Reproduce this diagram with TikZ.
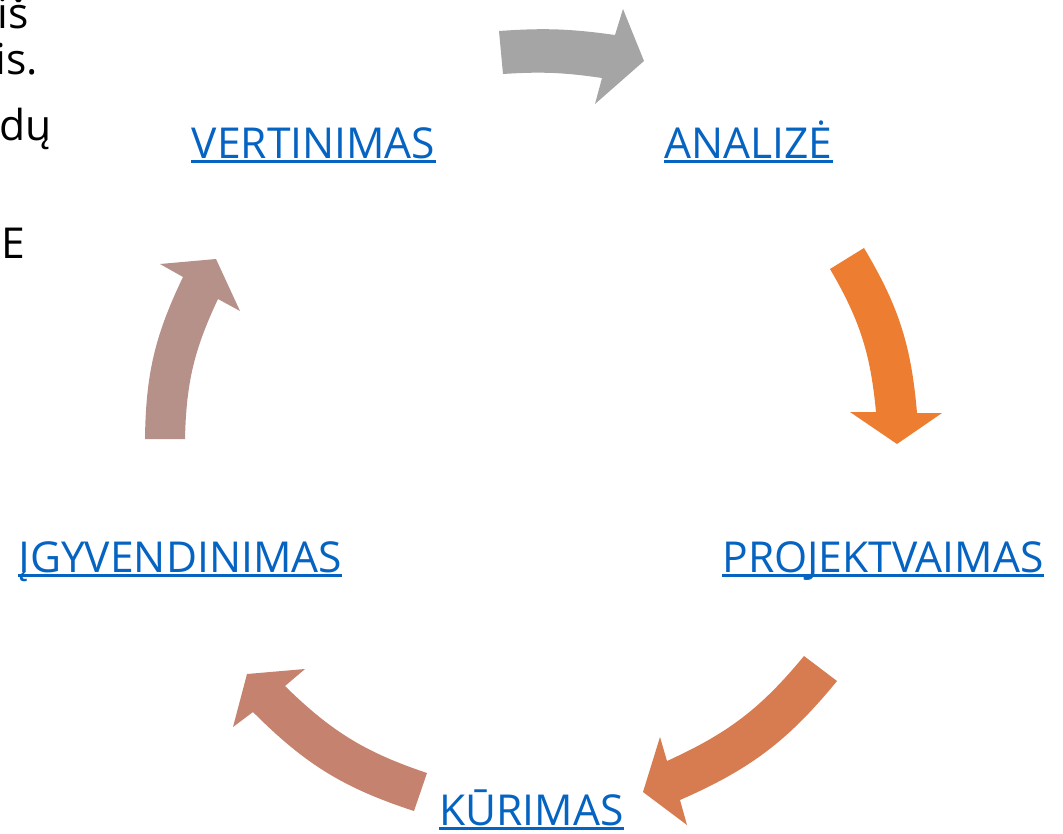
\documentclass[tikz,border=0pt]{standalone}
\usepackage{fontspec}
\setmainfont{Open Sans}
\definecolor{linkblue}{HTML}{0563C1}
\definecolor{arrA}{HTML}{A5A5A5}
\definecolor{arrB}{HTML}{ED7D31}
\definecolor{arrC}{HTML}{D77B51}
\definecolor{arrD}{HTML}{C4826F}
\definecolor{arrE}{HTML}{B5918A}
\begin{document}
\begin{tikzpicture}[x=1pt,y=-1pt,
  lbl/.style={text=linkblue, font=\fontsize{42.6}{51}\selectfont, inner sep=0pt, anchor=base},
  frag/.style={text=black, font=\fontsize{42.6}{51}\selectfont, inner sep=0pt, anchor=base east},
  uline/.style={fill=linkblue}]
\useasboundingbox (0,0) rectangle (1063,833);

% clipped text fragments
\node[frag] (f1) at (29,28) {iš};
\node[frag] (f2) at (38,74) {is.};
\node[frag] (f3) at (52,140) {dų};
\node[frag] (f4) at (25,258) {E};

% labels
\node[lbl] (ver) at (313.5,158) {VERTINIMAS};
\node[lbl] (ana) at (748.5,158) {ANALIZĖ};
\node[lbl] (pro) at (883,572) {PROJEKTVAIMAS};
\node[lbl] (igy) at (180,572) {ĮGYVENDINIMAS};
\node[lbl] (kur) at (531.5,825) {KŪRIMAS};
\foreach \n in {ver,ana,pro,igy,kur}{
  \fill[uline] ([yshift=-2pt]\n.base west) rectangle ([yshift=-4.5pt]\n.base east);
}

% curved block arrows
\fill[arrA] (499,31) to[bend left=6] (615,35) -- (623,9) -- (644,61) -- (595,104) -- (602,78) to[bend right=6] (503,74) -- cycle;
\fill[arrB] (864,248) to[bend left=13] (917,413) -- (942,413) -- (897,444) -- (850,412) -- (876,412) to[bend right=12.5] (830,269) -- cycle;
\fill[arrC] (837,681) to[bend left=13.5] (680,800) -- (687,825) -- (643,792) -- (660,737) -- (667,761) to[bend right=13] (804,656) -- cycle;
\fill[arrD] (414,811) to[bend left=13.5] (253,712) -- (233,727) -- (247,674) -- (305,669) -- (285,686) to[bend right=13] (427,773) -- cycle;
\fill[arrE] (145,439) to[bend left=12.5] (183,277) -- (160,264) -- (216,259) -- (240,311) -- (218,299) to[bend right=12] (185,439) -- cycle;
\end{tikzpicture}
\end{document}
